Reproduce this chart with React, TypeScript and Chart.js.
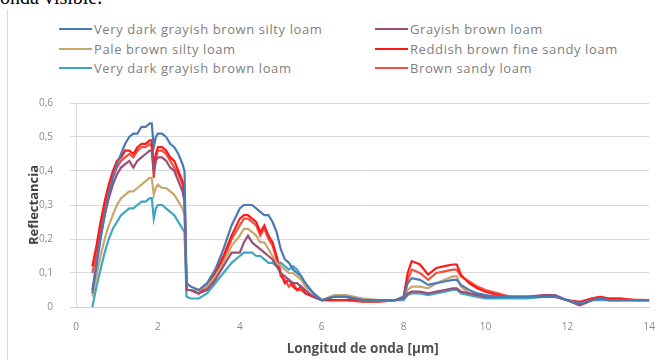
import React, { useEffect, useRef } from "react";
import { Chart, registerables } from "chart.js";

Chart.register(...registerables);

// Wavelength sampling, in micrometres
const WAVELENGTH = [
  0.4, 0.5, 0.6, 0.7, 0.8, 0.9, 1.0, 1.1, 1.2, 1.3, 1.4, 1.5, 1.6, 1.7, 1.8, 1.85, 1.9, 1.95, 2.0, 2.1,
  2.2, 2.3, 2.4, 2.5, 2.6, 2.65, 2.7, 2.8, 3.0, 3.2, 3.4, 3.6, 3.8, 4.0, 4.1, 4.2, 4.3, 4.4, 4.5, 4.6,
  4.7, 4.8, 4.9, 5.0, 5.1, 5.2, 5.3, 5.4, 5.5, 5.6, 5.8, 6.0, 6.3, 6.6, 7.0, 7.4, 7.8, 8.0, 8.1, 8.2,
  8.4, 8.6, 8.8, 9.0, 9.2, 9.3, 9.4, 9.6, 9.8, 10.0, 10.3, 10.6, 11.0, 11.4, 11.7, 12.0, 12.3, 12.6, 12.8, 13.0,
  13.3, 13.6, 14.0,
];

// Reflectance per soil
const VDGB_SILTY_LOAM = [
  0.04, 0.12, 0.2, 0.27, 0.33, 0.38, 0.42, 0.45, 0.48, 0.5, 0.51, 0.51, 0.53, 0.53, 0.54, 0.54, 0.47, 0.5, 0.51, 0.51,
  0.5, 0.48, 0.47, 0.45, 0.42, 0.4, 0.07, 0.06, 0.05, 0.07, 0.11, 0.17, 0.24, 0.29, 0.3, 0.3, 0.3, 0.29, 0.28, 0.27,
  0.27, 0.25, 0.22, 0.17, 0.14, 0.13, 0.11, 0.1, 0.09, 0.07, 0.04, 0.02, 0.03, 0.03, 0.02, 0.02, 0.02, 0.03, 0.07, 0.085,
  0.08, 0.065, 0.07, 0.075, 0.08, 0.08, 0.065, 0.05, 0.04, 0.035, 0.03, 0.03, 0.03, 0.03, 0.03, 0.02, 0.01, 0.02, 0.025, 0.02,
  0.02, 0.02, 0.02,
];
const GRAYISH_BROWN_LOAM = [
  0.05, 0.13, 0.21, 0.27, 0.32, 0.36, 0.39, 0.41, 0.42, 0.43, 0.41, 0.43, 0.44, 0.45, 0.46, 0.46, 0.4, 0.43, 0.44, 0.44,
  0.43, 0.41, 0.4, 0.37, 0.34, 0.31, 0.05, 0.05, 0.04, 0.05, 0.08, 0.12, 0.16, 0.16, 0.19, 0.21, 0.19, 0.18, 0.17, 0.16,
  0.15, 0.14, 0.12, 0.1, 0.09, 0.08, 0.07, 0.07, 0.06, 0.05, 0.03, 0.02, 0.03, 0.03, 0.02, 0.02, 0.02, 0.025, 0.04, 0.045,
  0.045, 0.04, 0.045, 0.05, 0.055, 0.055, 0.045, 0.04, 0.035, 0.03, 0.03, 0.03, 0.03, 0.035, 0.035, 0.02, 0.005, 0.02, 0.025, 0.02,
  0.02, 0.02, 0.02,
];
const PALE_BROWN_SILTY_LOAM = [
  0.03, 0.09, 0.15, 0.2, 0.24, 0.27, 0.3, 0.32, 0.33, 0.34, 0.34, 0.35, 0.36, 0.37, 0.38, 0.38, 0.33, 0.35, 0.36, 0.35,
  0.35, 0.34, 0.33, 0.31, 0.29, 0.27, 0.05, 0.05, 0.05, 0.06, 0.09, 0.13, 0.18, 0.21, 0.23, 0.23, 0.22, 0.21, 0.19, 0.19,
  0.17, 0.15, 0.13, 0.12, 0.11, 0.1, 0.1, 0.09, 0.08, 0.06, 0.04, 0.02, 0.035, 0.035, 0.025, 0.02, 0.02, 0.025, 0.05, 0.06,
  0.06, 0.055, 0.07, 0.08, 0.09, 0.09, 0.06, 0.04, 0.035, 0.03, 0.03, 0.03, 0.03, 0.03, 0.03, 0.02, 0.01, 0.02, 0.025, 0.02,
  0.02, 0.02, 0.02,
];
const REDDISH_BROWN_FINE_SANDY_LOAM = [
  0.12, 0.18, 0.25, 0.31, 0.36, 0.4, 0.43, 0.44, 0.46, 0.46, 0.45, 0.47, 0.48, 0.48, 0.49, 0.49, 0.41, 0.45, 0.47, 0.47,
  0.46, 0.44, 0.43, 0.4, 0.37, 0.34, 0.05, 0.05, 0.04, 0.06, 0.1, 0.15, 0.21, 0.26, 0.27, 0.27, 0.26, 0.25, 0.22, 0.24,
  0.21, 0.19, 0.15, 0.1, 0.07, 0.08, 0.06, 0.05, 0.06, 0.04, 0.03, 0.02, 0.02, 0.02, 0.02, 0.02, 0.02, 0.03, 0.1, 0.135,
  0.125, 0.095, 0.115, 0.12, 0.125, 0.125, 0.095, 0.07, 0.055, 0.045, 0.035, 0.03, 0.03, 0.03, 0.03, 0.02, 0.015, 0.025, 0.03, 0.025,
  0.025, 0.02, 0.02,
];
const VDGB_LOAM = [
  0.0, 0.06, 0.11, 0.16, 0.2, 0.23, 0.25, 0.27, 0.28, 0.29, 0.29, 0.3, 0.31, 0.31, 0.32, 0.32, 0.26, 0.29, 0.3, 0.3,
  0.29, 0.28, 0.27, 0.25, 0.23, 0.22, 0.03, 0.025, 0.025, 0.04, 0.07, 0.1, 0.13, 0.15, 0.16, 0.16, 0.16, 0.15, 0.15, 0.14,
  0.13, 0.13, 0.12, 0.13, 0.12, 0.11, 0.12, 0.11, 0.09, 0.07, 0.04, 0.02, 0.03, 0.03, 0.02, 0.02, 0.02, 0.02, 0.035, 0.04,
  0.04, 0.035, 0.04, 0.045, 0.05, 0.05, 0.04, 0.035, 0.03, 0.025, 0.025, 0.025, 0.025, 0.03, 0.03, 0.02, 0.005, 0.02, 0.02, 0.02,
  0.02, 0.02, 0.02,
];
const BROWN_SANDY_LOAM = [
  0.1, 0.16, 0.23, 0.29, 0.34, 0.38, 0.41, 0.43, 0.44, 0.45, 0.44, 0.46, 0.47, 0.47, 0.48, 0.47, 0.38, 0.44, 0.46, 0.46,
  0.45, 0.43, 0.41, 0.39, 0.36, 0.33, 0.05, 0.05, 0.04, 0.06, 0.09, 0.14, 0.2, 0.24, 0.26, 0.26, 0.25, 0.24, 0.21, 0.23,
  0.2, 0.18, 0.14, 0.09, 0.08, 0.06, 0.07, 0.05, 0.05, 0.04, 0.03, 0.02, 0.02, 0.02, 0.015, 0.015, 0.02, 0.025, 0.08, 0.11,
  0.1, 0.08, 0.1, 0.105, 0.11, 0.11, 0.09, 0.075, 0.06, 0.05, 0.04, 0.03, 0.03, 0.03, 0.03, 0.02, 0.01, 0.025, 0.03, 0.025,
  0.025, 0.022, 0.02,
];

const SERIES_NAMES = [
  "Very dark grayish brown silty loam",
  "Grayish brown loam",
  "Pale brown silty loam",
  "Reddish brown fine sandy loam",
  "Very dark grayish brown loam",
  "Brown sandy loam",
];
const SERIES_VALUES = [
  VDGB_SILTY_LOAM,
  GRAYISH_BROWN_LOAM,
  PALE_BROWN_SILTY_LOAM,
  REDDISH_BROWN_FINE_SANDY_LOAM,
  VDGB_LOAM,
  BROWN_SANDY_LOAM,
];
const SERIES_COLORS = ["#4a7ab4", "#9a4f78", "#c9a66c", "#ff1a1a", "#3fa6c2", "#f0503c"];

const X_TICKS = [0, 2, 4, 6, 8, 10, 12, 14];
const Y_TICKS = [0, 0.1, 0.2, 0.3, 0.4, 0.5, 0.6];

const FONT = "'Open Sans', 'Liberation Sans', sans-serif";

function fmtComma(v: number): string {
  return v === 0 ? "0" : v.toFixed(1).replace(".", ",");
}

function SpectraChart() {
  const ref = useRef<HTMLCanvasElement | null>(null);

  useEffect(() => {
    if (!ref.current) return;
    const chart = new Chart(ref.current, {
      type: "line",
      data: {
        datasets: SERIES_NAMES.map((name, s) => ({
          label: name,
          data: WAVELENGTH.map((x, i) => ({ x, y: SERIES_VALUES[s][i] })),
          borderColor: SERIES_COLORS[s],
          backgroundColor: SERIES_COLORS[s],
          borderWidth: 2.2,
          pointRadius: 0,
          tension: 0,
          fill: false,
        })),
      },
      options: {
        responsive: false,
        animation: false,
        layout: { padding: { top: 20, right: 6, left: 0, bottom: 0 } },
        plugins: {
          legend: { display: false },
          tooltip: { enabled: false },
        },
        scales: {
          x: {
            type: "linear",
            min: X_TICKS[0],
            max: X_TICKS[X_TICKS.length - 1],
            afterBuildTicks: (scale: any) => {
              scale.ticks = X_TICKS.map((v) => ({ value: v }));
            },
            afterFit: (scale: any) => {
              scale.height = 53;
            },
            grid: { display: false, drawTicks: false },
            border: { display: true, color: "#d0d0d0", width: 1 },
            ticks: {
              padding: 14,
              color: "#8a8a8a",
              font: { family: FONT, size: 10 },
              maxRotation: 0,
              callback: (v: any) => String(v),
            },
            title: {
              display: true,
              text: "Longitud de onda [µm]",
              color: "#505050",
              font: { family: FONT, size: 13.5, weight: "bold" },
              padding: { top: 0, bottom: 3 },
            },
          },
          y: {
            min: Y_TICKS[0],
            max: Y_TICKS[Y_TICKS.length - 1],
            afterBuildTicks: (scale: any) => {
              scale.ticks = Y_TICKS.map((v) => ({ value: v }));
            },
            afterFit: (scale: any) => {
              scale.width = 68;
            },
            grid: { color: "#d9d9d9", lineWidth: 1, drawTicks: true, tickLength: 6 },
            border: { display: true, color: "#d9d9d9", width: 1 },
            ticks: {
              padding: 17,
              color: "#8a8a8a",
              font: { family: FONT, size: 10 },
              callback: (v: any) => fmtComma(Number(v)),
            },
            title: {
              display: true,
              text: "Reflectancia",
              color: "#404040",
              font: { family: FONT, size: 13, weight: "bold" },
              padding: { top: 18, bottom: 0 },
            },
          },
        },
      },
    });
    return () => chart.destroy();
  }, []);

  return (
    <canvas
      ref={ref}
      width={661}
      height={280}
      style={{ position: "absolute", left: 8, top: 80, width: 661, height: 280 }}
    />
  );
}

const LEGEND_ROWS_Y = [21, 40.5, 60];
const LEGEND_COLS_X = [59, 375];

function Legend() {
  return (
    <>
      {SERIES_NAMES.map((name, i) => {
        const col = i % 2;
        const row = Math.floor(i / 2);
        return (
          <div
            key={name}
            style={{
              position: "absolute",
              left: LEGEND_COLS_X[col],
              top: LEGEND_ROWS_Y[row],
              height: 16,
              display: "flex",
              alignItems: "center",
              whiteSpace: "nowrap",
            }}
          >
            <span style={{ display: "inline-block", width: 33, height: 2, background: SERIES_COLORS[i] }} />
            <span
              style={{
                marginLeft: 2,
                fontFamily: FONT,
                fontSize: 13,
                letterSpacing: 0.6,
                color: "#808080",
                lineHeight: "16px",
              }}
            >
              {name}
            </span>
          </div>
        );
      })}
    </>
  );
}

export default function App() {
  return (
    <div
      style={{
        position: "absolute",
        left: 0,
        top: 0,
        width: 669,
        height: 360,
        overflow: "hidden",
        background: "#ffffff",
      }}
    >
      <div
        style={{
          position: "absolute",
          left: 0,
          top: -12,
          fontFamily: "'Liberation Serif', 'Times New Roman', serif",
          fontSize: 20,
          lineHeight: "19px",
          color: "#000",
          whiteSpace: "nowrap",
        }}
      >
        onda visible.
      </div>
      <div
        style={{
          position: "absolute",
          left: 7,
          top: 10,
          width: 700,
          height: 400,
          borderLeft: "1px solid #d9d9d9",
        }}
      />
      <Legend />
      <SpectraChart />
    </div>
  );
}
